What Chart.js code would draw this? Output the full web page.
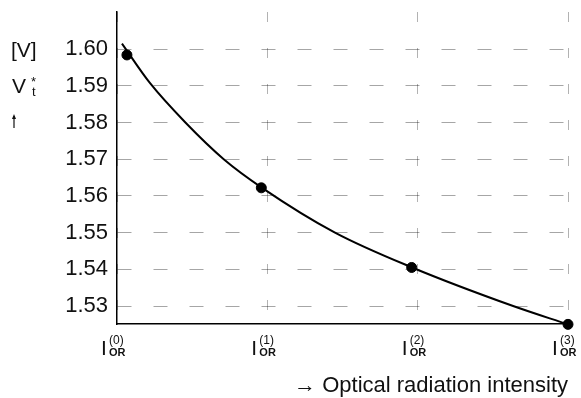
<!DOCTYPE html>
<html>
<head>
<meta charset="utf-8">
<style>
  html, body { margin: 0; padding: 0; background: #fff; }
  #wrap { width: 581px; height: 398px; }
</style>
<script src="https://cdn.jsdelivr.net/npm/chart.js@4.4.1/dist/chart.umd.min.js"></script>
</head>
<body>
<div id="wrap"><canvas id="chart"></canvas></div>
<script>
// intensity levels I_OR^(0..3) on the x axis
const levels = ['0', '1', '2', '3'];
const yTicks = [1.53, 1.54, 1.55, 1.56, 1.57, 1.58, 1.59, 1.60];

// measured points (dots)
const pointX = [0.066, 0.96, 1.96, 3.0];
const pointY = [1.5984, 1.5622, 1.5405, 1.525];

// curve
const curveX = [0.033, 0.22, 0.455, 0.71, 0.965, 1.45, 1.963, 2.635, 3.0];
const curveY = [1.6015, 1.5907, 1.580, 1.570, 1.5622, 1.550, 1.5405, 1.530, 1.525];

const FONT = '"Liberation Sans", Arial, Helvetica, sans-serif';

const labelsPlugin = {
  id: 'labels',
  afterDraw(chart) {
    const ctx = chart.ctx;
    const xs = chart.scales.x;
    ctx.save();
    ctx.fillStyle = '#111';
    ctx.textAlign = 'left';
    ctx.textBaseline = 'alphabetic';

    // x tick labels  I_OR^(n)
    levels.forEach((lv, i) => {
      const px = xs.getPixelForValue(i);
      ctx.font = '21px ' + FONT;
      ctx.fillText('I', px - 16, 355);
      ctx.font = '12px ' + FONT;
      ctx.fillText('(' + lv + ')', px - 8, 344);
      ctx.font = 'bold 11px ' + FONT;
      ctx.fillText('OR', px - 8, 356);
    });

    // y axis title
    ctx.font = '21px ' + FONT;
    ctx.fillText('[V]', 11, 57);
    ctx.fillText('V', 12, 93);
    ctx.font = '13px ' + FONT;
    ctx.fillText('*', 31, 86);
    ctx.fillText('t', 32, 96);
    // small up arrow
    ctx.strokeStyle = '#111';
    ctx.lineWidth = 1.2;
    ctx.beginPath();
    ctx.moveTo(14, 128);
    ctx.lineTo(14, 116);
    ctx.stroke();
    ctx.beginPath();
    ctx.moveTo(12, 119);
    ctx.lineTo(14, 114);
    ctx.lineTo(16, 119);
    ctx.closePath();
    ctx.fill();

    // x axis title
    ctx.font = '22px ' + FONT;
    ctx.textAlign = 'right';
    ctx.fillText('\u2192 Optical radiation intensity', 568, 392);
    ctx.restore();
  }
};

new Chart(document.getElementById('chart'), {
  type: 'line',
  data: {
    datasets: [
      {
        data: curveX.map((x, i) => ({ x, y: curveY[i] })),
        borderColor: '#000',
        borderWidth: 2,
        pointRadius: 0,
        cubicInterpolationMode: 'monotone',
        clip: false
      },
      {
        type: 'scatter',
        data: pointX.map((x, i) => ({ x, y: pointY[i] })),
        backgroundColor: '#000',
        borderColor: '#000',
        pointRadius: 5,
        clip: false
      }
    ]
  },
  options: {
    responsive: true,
    maintainAspectRatio: false,
    animation: false,
    layout: { padding: { top: 12, right: 13, left: 0, bottom: 0 } },
    plugins: { legend: { display: false }, tooltip: { enabled: false } },
    scales: {
      x: {
        type: 'linear',
        min: 0,
        max: 3,
        afterBuildTicks: s => { s.ticks = levels.map((l, i) => ({ value: i })); },
        ticks: { display: false },
        grid: { color: 'rgba(0,0,0,0.3)', lineWidth: 1, drawTicks: false },
        border: { color: '#000', width: 1.5, dash: [10, 26] },
        afterFit: s => { s.height = 74; }
      },
      y: {
        min: 1.5251,
        max: 1.6101,
        afterBuildTicks: s => { s.ticks = yTicks.map(v => ({ value: v })); },
        ticks: {
          color: '#111',
          padding: 9,
          font: { family: FONT, size: 22 },
          callback: v => v.toFixed(2)
        },
        grid: { color: 'rgba(0,0,0,0.35)', lineWidth: 1, drawTicks: false },
        border: { color: '#000', width: 1.5, dash: [14, 22] },
        afterFit: s => { s.width = 117; s.paddingTop = 0; s.paddingBottom = 0; }
      }
    }
  },
  plugins: [labelsPlugin]
});
</script>
</body>
</html>
